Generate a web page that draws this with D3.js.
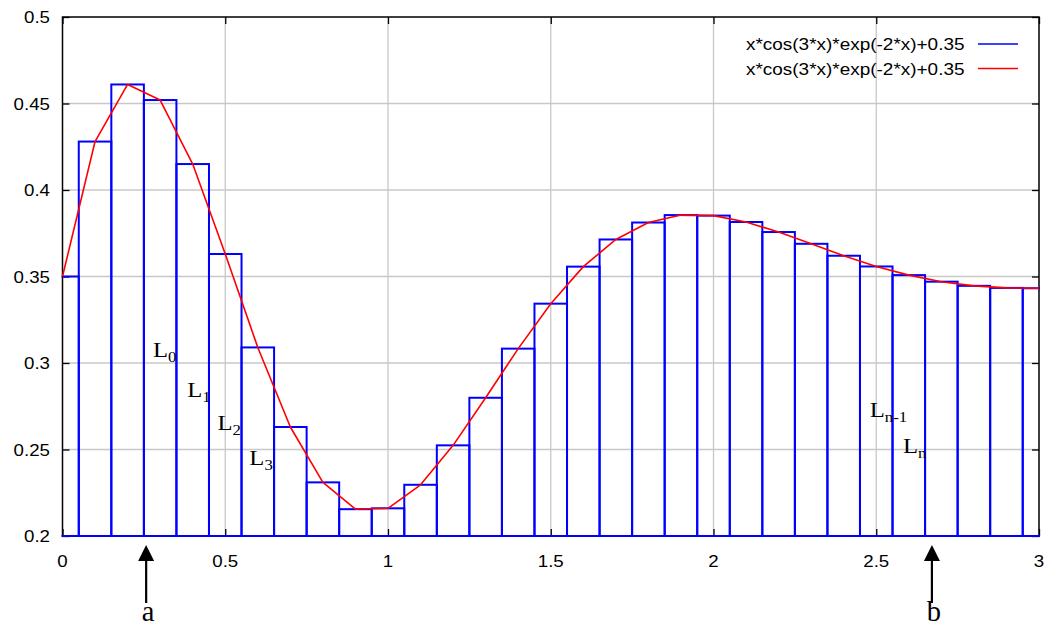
<!DOCTYPE html>
<html>
<head>
<meta charset="utf-8">
<script src="https://cdn.jsdelivr.net/npm/d3@7"></script>
<style>
  html, body { margin: 0; padding: 0; background: #ffffff; }
  svg { display: block; }
</style>
</head>
<body>
<div id="chart"></div>
<script>
// sample points of the function (step 0.1)
const xValues = [0, 0.1, 0.2, 0.3, 0.4, 0.5, 0.6, 0.7, 0.8, 0.9, 1.0,
                 1.1, 1.2, 1.3, 1.4, 1.5, 1.6, 1.7, 1.8, 1.9, 2.0,
                 2.1, 2.2, 2.3, 2.4, 2.5, 2.6, 2.7, 2.8, 2.9, 3.0];
const boxValues = [0.350, 0.428, 0.461, 0.452, 0.415, 0.363, 0.309, 0.263, 0.231, 0.2155, 0.216,
                   0.2296, 0.2524, 0.2799, 0.3083, 0.3343, 0.3557, 0.3714, 0.3812, 0.3855, 0.3852,
                   0.3815, 0.3757, 0.3689, 0.362, 0.3558, 0.3508, 0.347, 0.3446, 0.3434, 0.3432];
const curveValues = [0.350, 0.428, 0.461, 0.452, 0.415, 0.363, 0.309, 0.263, 0.231, 0.2155, 0.216,
                     0.2296, 0.2524, 0.2799, 0.3083, 0.3343, 0.3557, 0.3714, 0.3812, 0.3855, 0.3852,
                     0.3815, 0.3757, 0.3689, 0.362, 0.3558, 0.3508, 0.347, 0.3446, 0.3434, 0.3432];
const boxWidth = 0.1;

const xTicks = [0, 0.5, 1, 1.5, 2, 2.5, 3];
const xTickLabels = ["0", "0.5", "1", "1.5", "2", "2.5", "3"];
const yTicks = [0.2, 0.25, 0.3, 0.35, 0.4, 0.45, 0.5];
const yTickLabels = ["0.2", "0.25", "0.3", "0.35", "0.4", "0.45", "0.5"];

const seriesNames = ["x*cos(3*x)*exp(-2*x)+0.35", "x*cos(3*x)*exp(-2*x)+0.35"];
const seriesColors = ["#0000ff", "#ff0000"];

// annotations (data coordinates)
const segLabels = [
    { base: "L", sub: "0", x: 0.278, y: 0.3035 },
    { base: "L", sub: "1", x: 0.383, y: 0.2805 },
    { base: "L", sub: "2", x: 0.476, y: 0.2615 },
    { base: "L", sub: "3", x: 0.574, y: 0.2412 },
    { base: "L", sub: "n-1", x: 2.480, y: 0.2690 },
    { base: "L", sub: "n", x: 2.582, y: 0.2480 }
];
const arrowMarks = [
    { name: "a", x: 0.257 },
    { name: "b", x: 2.671 }
];

const width = 1046, height = 631;
const margin = { top: 17, right: 7, bottom: 95, left: 62.5 };
const plotW = width - margin.left - margin.right;
const plotH = height - margin.top - margin.bottom;

const svg = d3.select("#chart").append("svg")
    .attr("width", width)
    .attr("height", height);

const g = svg.append("g")
    .attr("transform", `translate(${margin.left},${margin.top})`);

const x = d3.scaleLinear().domain([0, 3]).range([0, plotW]);
const y = d3.scaleLinear().domain([0.2, 0.5]).range([plotH, 0]);

const sansFont = "'Liberation Sans', Arial, sans-serif";
const serifFont = "'Liberation Serif', 'Times New Roman', serif";

// text helper with a little horizontal stretch, like the original
function stretchedText(parent, px, py, str, opts) {
    const t = parent.append("g")
        .attr("transform", `translate(${px},${py}) scale(${opts.sx || 1},1)`)
        .append("text")
        .attr("font-family", opts.font)
        .attr("font-size", opts.size)
        .attr("text-anchor", opts.anchor || "start")
        .attr("fill", "#000");
    t.text(str);
    return t;
}

// grid
g.append("g").selectAll("line")
    .data(xTicks.slice(1, -1))
    .join("line")
    .attr("x1", d => x(d)).attr("x2", d => x(d))
    .attr("y1", 0).attr("y2", plotH)
    .attr("stroke", "#c8c8c8").attr("stroke-width", 1.3);
g.append("g").selectAll("line")
    .data(yTicks.slice(1, -1))
    .join("line")
    .attr("x1", 0).attr("x2", plotW)
    .attr("y1", d => y(d)).attr("y2", d => y(d))
    .attr("stroke", "#c8c8c8").attr("stroke-width", 1.3);

// axes with inward ticks on all four sides
const tickLen = 7;
g.append("g")
    .attr("transform", `translate(0,${plotH})`)
    .call(d3.axisBottom(x).tickValues(xTicks).tickSize(-tickLen).tickFormat(""))
    .call(s => s.select(".domain").remove());
g.append("g")
    .call(d3.axisTop(x).tickValues(xTicks).tickSize(-tickLen).tickFormat(""))
    .call(s => s.select(".domain").remove());
g.append("g")
    .call(d3.axisLeft(y).tickValues(yTicks).tickSize(-tickLen).tickFormat(""))
    .call(s => s.select(".domain").remove());
g.append("g")
    .attr("transform", `translate(${plotW},0)`)
    .call(d3.axisRight(y).tickValues(yTicks).tickSize(-tickLen).tickFormat(""))
    .call(s => s.select(".domain").remove());
g.selectAll(".tick line").attr("stroke", "#000").attr("stroke-width", 1.3);

g.append("rect")
    .attr("x", 0).attr("y", 0)
    .attr("width", plotW).attr("height", plotH)
    .attr("fill", "none")
    .attr("stroke", "#000")
    .attr("stroke-width", 1.5);

// tick labels
xTicks.forEach((v, i) => {
    stretchedText(g, x(v), plotH + 31, xTickLabels[i],
        { font: sansFont, size: 17, anchor: "middle", sx: 1.1 });
});
yTicks.forEach((v, i) => {
    stretchedText(g, -12.5, y(v) + 6, yTickLabels[i],
        { font: sansFont, size: 17, anchor: "end", sx: 1.1 });
});

// clip for boxes and curve
svg.append("defs").append("clipPath")
    .attr("id", "plot-clip")
    .append("rect")
    .attr("x", -1).attr("y", -1)
    .attr("width", plotW + 2).attr("height", plotH + 2);

const plot = g.append("g").attr("clip-path", "url(#plot-clip)");

// boxes
const boxData = xValues.map((v, i) => ({ x: v, y: boxValues[i] }));
plot.append("g").selectAll("rect")
    .data(boxData)
    .join("rect")
    .attr("x", d => x(d.x - boxWidth / 2))
    .attr("y", d => y(d.y))
    .attr("width", d => x(d.x + boxWidth / 2) - x(d.x - boxWidth / 2))
    .attr("height", d => y(0.2) - y(d.y))
    .attr("fill", "none")
    .attr("stroke", seriesColors[0])
    .attr("stroke-width", 2);

// curve
const curveData = xValues.map((v, i) => ({ x: v, y: curveValues[i] }));
plot.append("path")
    .datum(curveData)
    .attr("fill", "none")
    .attr("stroke", seriesColors[1])
    .attr("stroke-width", 1.6)
    .attr("stroke-linejoin", "round")
    .attr("d", d3.line().x(d => x(d.x)).y(d => y(d.y)));

// legend
const legend = g.append("g");
seriesNames.forEach((name, i) => {
    const ly = 27 + i * 24.5;
    stretchedText(legend, 902, ly + 6, name,
        { font: sansFont, size: 17, anchor: "end", sx: 1.115 });
    legend.append("line")
        .attr("x1", 915.5).attr("x2", 955.5)
        .attr("y1", ly).attr("y2", ly)
        .attr("stroke", seriesColors[i])
        .attr("stroke-width", 1.6);
});

// segment labels L0 ... Ln
segLabels.forEach(d => {
    const t = stretchedText(g, x(d.x), y(d.y), "", { font: serifFont, size: 22, sx: 1.12 });
    t.append("tspan").text(d.base);
    t.append("tspan")
        .attr("font-size", 15)
        .attr("dy", 5)
        .text(d.sub);
});

// arrows a and b
arrowMarks.forEach(d => {
    const ax = x(d.x);
    const tipY = plotH + 9;
    g.append("line")
        .attr("x1", ax).attr("x2", ax)
        .attr("y1", tipY + 12).attr("y2", plotH + 67)
        .attr("stroke", "#000")
        .attr("stroke-width", 2.2);
    g.append("path")
        .attr("d", `M${ax},${tipY} L${ax - 8},${tipY + 16} L${ax + 8},${tipY + 16} Z`)
        .attr("fill", "#000");
    stretchedText(g, ax + 2, plotH + 85, d.name,
        { font: serifFont, size: 30, anchor: "middle", sx: 0.95 });
});
</script>
</body>
</html>
